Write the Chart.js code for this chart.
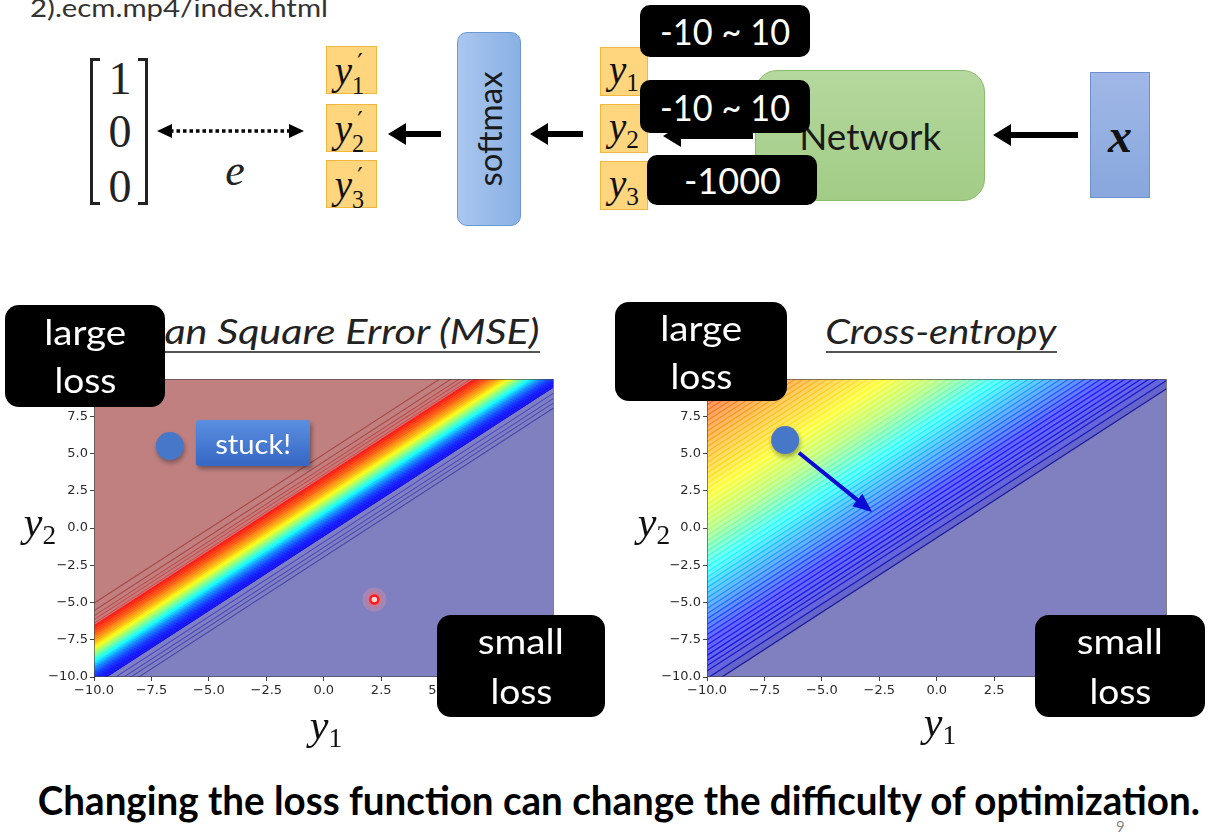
<!DOCTYPE html>
<html><head><meta charset="utf-8">
<script src="https://cdn.jsdelivr.net/npm/chart.js@4.4.0/dist/chart.umd.min.js"></script>
<style>
html,body{margin:0;padding:0;background:#fff;}
#slide{position:relative;width:1216px;height:838px;overflow:hidden;background:#fff;font-family:Lato,"Open Sans",sans-serif;}
.t{position:absolute;white-space:nowrap;line-height:1;z-index:3;}
.box{position:absolute;display:flex;align-items:center;justify-content:center;box-sizing:border-box;z-index:3;}
.fit{display:inline-block;white-space:nowrap;transform-origin:center center;}
.blk{background:#000;color:#fff;border-radius:10px;}
.math{font-family:"Liberation Serif","DejaVu Serif",serif;}
.math i{font-style:italic;}
.ybox{background:#ffd67e;border:1px solid #f3b63e;color:#111;font-size:39px;}
.ps{position:relative;display:inline-block;width:0.42em;height:0.5em;line-height:1;}
.ps .pr{position:absolute;left:0.22em;top:-0.52em;font-family:"DejaVu Sans",sans-serif;font-size:0.62em;font-style:normal;line-height:1;}
.ps .pd{position:absolute;left:0;top:0.42em;font-size:0.62em;font-style:normal;line-height:1;}
.sb{font-size:0.65em;vertical-align:-0.3em;font-style:normal;}
.chartwrap{position:absolute;z-index:1;}
.brk{position:absolute;border:3px solid #222;box-sizing:border-box;z-index:3;}
</style></head>
<body>
<div id="slide">
  <!-- header -->
  <div class="t" style="left:30px;top:-5px;font-size:25px;color:#333;transform-origin:left center;" data-fitl="298">2).ecm.mp4/index.html</div>

  <!-- matrix -->
  <div class="brk" style="left:90px;top:58px;width:10px;height:147px;border-right:none;"></div>
  <div class="brk" style="left:138px;top:58px;width:10px;height:147px;border-left:none;"></div>
  <div class="box math" style="left:100px;top:53px;width:40px;height:50px;font-size:46px;color:#222;">1</div>
  <div class="box math" style="left:100px;top:106px;width:40px;height:50px;font-size:46px;color:#222;">0</div>
  <div class="box math" style="left:100px;top:161px;width:40px;height:50px;font-size:46px;color:#222;">0</div>
  <div class="box math" style="left:215px;top:145px;width:40px;height:50px;font-size:44px;color:#222;"><i>e</i></div>

  <!-- y' boxes -->
  <div class="box ybox math" style="left:326px;top:46px;width:51px;height:48px;"><span><i>y</i><span class="ps"><span class="pr">′</span><span class="pd">1</span></span></span></div>
  <div class="box ybox math" style="left:326px;top:104px;width:51px;height:48px;"><span><i>y</i><span class="ps"><span class="pr">′</span><span class="pd">2</span></span></span></div>
  <div class="box ybox math" style="left:326px;top:160px;width:51px;height:48px;"><span><i>y</i><span class="ps"><span class="pr">′</span><span class="pd">3</span></span></span></div>

  <!-- softmax -->
  <div class="box" style="left:457px;top:32px;width:64px;height:194px;border-radius:10px;background:linear-gradient(90deg,#aac7ee,#89b0e4);border:1px solid #6d98d6;">
    <span style="display:inline-block;transform:rotate(-90deg);font-size:33px;color:#1a1a1a;white-space:nowrap;">softmax</span>
  </div>

  <!-- y boxes -->
  <div class="box ybox math" style="left:600px;top:47px;width:48px;height:49px;"><span><i>y</i><span class="sb">1</span></span></div>
  <div class="box ybox math" style="left:600px;top:104px;width:48px;height:49px;"><span><i>y</i><span class="sb">2</span></span></div>
  <div class="box ybox math" style="left:600px;top:161px;width:48px;height:49px;"><span><i>y</i><span class="sb">3</span></span></div>

  <!-- network -->
  <div class="box" style="left:755px;top:70px;width:230px;height:131px;border-radius:22px;background:linear-gradient(180deg,#b5d89e,#a2cc86);border:1px solid #8bbb6c;z-index:2;">
    <span class="fit" style="font-size:37px;color:#1a1a1a;" data-fit="142">Network</span>
  </div>
  <!-- x box -->
  <div class="box math" style="left:1090px;top:72px;width:60px;height:126px;background:linear-gradient(180deg,#a0b8e7,#88a7dd);border:1px solid #6f8fd0;font-size:48px;color:#111;"><b><i>x</i></b></div>

  <!-- black value boxes -->
  <div class="box blk" style="left:640px;top:5px;width:170px;height:52px;font-size:36px;z-index:4;"><span class="fit" data-fit="130">-10 ~ 10</span></div>
  <div class="box blk" style="left:640px;top:80px;width:170px;height:53px;font-size:36px;z-index:4;"><span class="fit" data-fit="130">-10 ~ 10</span></div>
  <div class="box blk" style="left:647px;top:155px;width:170px;height:50px;font-size:36px;z-index:4;"><span class="fit" data-fit="97">-1000</span></div>

  <!-- arrows -->
  <svg style="position:absolute;left:0;top:0;z-index:3;" width="1216" height="240">
    <line x1="170" y1="131" x2="291" y2="131" stroke="#000" stroke-width="3.5" stroke-dasharray="3.5 3"/>
    <polygon points="157,131 172,124 172,138" fill="#000"/>
    <polygon points="304,131 289,124 289,138" fill="#000"/>
    <line x1="402" y1="134" x2="441" y2="134" stroke="#000" stroke-width="6"/>
    <polygon points="388,134 406,123 406,145" fill="#000"/>
    <line x1="544" y1="134" x2="583" y2="134" stroke="#000" stroke-width="6"/>
    <polygon points="530,134 548,123 548,145" fill="#000"/>
    <line x1="677" y1="136" x2="753" y2="136" stroke="#000" stroke-width="6"/>
    <polygon points="663,136 681,125 681,147" fill="#000"/>
    <line x1="1007" y1="135" x2="1078" y2="135" stroke="#000" stroke-width="6"/>
    <polygon points="993,135 1011,124 1011,146" fill="#000"/>
  </svg>

  <!-- charts -->
  <div class="chartwrap" style="left:30px;top:365px;width:540px;height:340px;"><canvas id="mse" width="540" height="340"></canvas></div>
  <div class="chartwrap" style="left:643px;top:365px;width:540px;height:340px;"><canvas id="ce" width="540" height="340"></canvas></div>

  <!-- titles -->
  <div class="box" style="left:75px;top:313px;width:500px;height:34px;font-size:34px;font-style:italic;color:#222;"><span class="fit" data-fit="430">Mean Square Error (MSE)</span></div>
  <div style="position:absolute;left:110px;top:351px;width:430px;height:2px;background:#555;z-index:3;"></div>
  <div class="box" style="left:791px;top:313px;width:300px;height:34px;font-size:34px;font-style:italic;color:#222;"><span class="fit" data-fit="231">Cross-entropy</span></div>
  <div style="position:absolute;left:826px;top:351px;width:231px;height:2px;background:#555;z-index:3;"></div>

  <!-- loss boxes -->
  <div class="box blk" style="left:5px;top:305px;width:160px;height:102px;border-radius:14px;flex-direction:column;font-size:34px;line-height:48px;"><span class="fit" data-fit="82">large</span><span class="fit" data-fit="62">loss</span></div>
  <div class="box blk" style="left:615px;top:302px;width:172px;height:99px;border-radius:14px;flex-direction:column;font-size:34px;line-height:48px;"><span class="fit" data-fit="82">large</span><span class="fit" data-fit="62">loss</span></div>
  <div class="box blk" style="left:437px;top:615px;width:168px;height:102px;border-radius:14px;flex-direction:column;font-size:34px;line-height:50px;"><span class="fit" data-fit="86">small</span><span class="fit" data-fit="62">loss</span></div>
  <div class="box blk" style="left:1035px;top:615px;width:170px;height:102px;border-radius:14px;flex-direction:column;font-size:34px;line-height:50px;"><span class="fit" data-fit="86">small</span><span class="fit" data-fit="62">loss</span></div>

  <!-- stuck -->
  <div class="box" style="left:196px;top:420px;width:114px;height:46px;border-radius:3px;background:linear-gradient(180deg,#5b8fe0,#3567c4);box-shadow:2px 3px 4px rgba(0,0,0,0.35);color:#fff;font-size:27px;"><span class="fit" data-fit="76">stuck!</span></div>

  <!-- axis labels -->
  <div class="box math" style="left:10px;top:500px;width:60px;height:50px;font-size:42px;color:#111;"><span><i>y</i><span class="sb">2</span></span></div>
  <div class="box math" style="left:296px;top:703px;width:60px;height:50px;font-size:42px;color:#111;"><span><i>y</i><span class="sb">1</span></span></div>
  <div class="box math" style="left:624px;top:500px;width:60px;height:50px;font-size:42px;color:#111;"><span><i>y</i><span class="sb">2</span></span></div>
  <div class="box math" style="left:910px;top:700px;width:60px;height:50px;font-size:42px;color:#111;"><span><i>y</i><span class="sb">1</span></span></div>

  <!-- bottom statement -->
  <div class="box" style="left:0px;top:778px;width:1238px;height:44px;font-size:40px;font-weight:bold;color:#000;"><span class="fit" data-fit="1162">Changing the loss function can change the difficulty of optimization.</span></div>
  <div class="t" style="left:1116px;top:819px;font-size:15px;color:#8a8a8a;">9</div>
</div>

<script>
// ---------- data ----------
const axisRange = [-10, 10];
const axisTicks = [-10, -7.5, -5, -2.5, 0, 2.5, 5, 7.5, 10];

// MSE contour bands: offsets c of contour lines y2 = y1 + c, and level of each band below its line (0..1)
const mseBandOffsets = [3.45, 3.30, 3.15, 3.00, 2.85, 2.70, 2.55, 2.40, 2.25, 2.10, 1.95, 1.80, 1.65, 1.50, 1.35, 1.20, 1.05, 0.90, 0.75, 0.60, 0.45, 0.30, 0.15, 0.00, -0.15, -0.30, -0.45, -0.60];
const mseBandLevels  = [0.87, 0.85, 0.83, 0.81, 0.79, 0.76, 0.735, 0.71, 0.68, 0.645, 0.61, 0.57, 0.53, 0.49, 0.45, 0.41, 0.37, 0.33, 0.29, 0.25, 0.22, 0.19, 0.165, 0.145, 0.13, 0.115, 0.10];
const mseUpperLevel = 1.0;
const mseLowerLevel = 0.0;
const mseLineOffsets = [4.95, 4.45, 4.10, 3.85, 3.60, -0.95, -1.30, -1.60, -1.95];
const mseLineLevels  = [0.99, 0.98, 0.96, 0.94, 0.92, 0.06, 0.04, 0.025, 0.01];
const mseStuck = [{x: -6.7, y: 5.5}];
const mseMinimum = [{x: 2.2, y: -4.8}];

// Cross-entropy contour lines (offsets c of y2 = y1 + c)
const ceOffsets = [20.0, 19.65, 19.3, 18.95, 18.6, 18.25, 17.9, 17.55, 17.2, 16.85, 16.5, 16.15, 15.8, 15.45, 15.1, 14.75, 14.4, 14.05, 13.7, 13.35, 13.0, 12.65, 12.3, 11.95, 11.6, 11.25, 10.9, 10.55, 10.2, 9.85, 9.5, 9.15, 8.8, 8.45, 8.1, 7.75, 7.4, 7.05, 6.7, 6.35, 6.0, 5.65, 5.3, 4.95, 4.6, 4.25, 3.9, 3.55, 3.2, 2.85, 2.5, 2.15, 1.8, 1.45, 1.1, 0.75, 0.4, -0.1, -0.65];
const ceStart = [{x: -6.6, y: 5.9}];
const ceStep = [{x: -6.0, y: 5.05}, {x: -2.95, y: 1.25}];

// ---------- colour scale (style) ----------
const ceColorStops = [[-1, 0.0], [0, 0.06], [2.5, 0.13], [5, 0.26], [7.5, 0.39], [10, 0.54], [12.5, 0.635], [15, 0.70], [17.5, 0.77], [20, 0.83]];
function ceT(c){
  const s = ceColorStops;
  if (c <= s[0][0]) return s[0][1];
  for (let i = 1; i < s.length; i++) {
    if (c <= s[i][0]) { const f = (c - s[i-1][0]) / (s[i][0] - s[i-1][0]); return s[i-1][1] + f * (s[i][1] - s[i-1][1]); }
  }
  return s[s.length-1][1];
}
function jet(t){
  t = Math.max(0, Math.min(1, t));
  const f = v => Math.round(255 * Math.max(0, Math.min(1, v)));
  return [f(1.5 - Math.abs(4*t - 3)), f(1.5 - Math.abs(4*t - 2)), f(1.5 - Math.abs(4*t - 1))];
}
const mixWhite = (c, a) => c.map(v => Math.round(v*a + 255*(1-a)));
const rgb = c => `rgb(${c[0]},${c[1]},${c[2]})`;
const diag = c => [{x: axisRange[0], y: axisRange[0] + c}, {x: axisRange[1], y: axisRange[1] + c}];
const fmtTick = v => (Math.abs(v) < 1e-9 ? '0.0' : v.toFixed(1)).replace('-', '\u2212');
const base = {type: 'line', showLine: true, pointRadius: 0, pointHoverRadius: 0, tension: 0, order: 5};

function scaleOpts(axis){
  return {
    type: 'linear', min: axisRange[0], max: axisRange[1],
    afterBuildTicks: s => { s.ticks = axisTicks.map(v => ({value: v})); },
    afterFit: s => { if (axis === 'x') s.height = 28; else s.width = 64; },
    grid: {drawOnChartArea: false, drawTicks: true, tickLength: 4, color: '#444', lineWidth: 1},
    border: {display: false},
    ticks: {autoSkip: false, maxRotation: 0, color: '#2a2a2a', padding: 2,
            font: {family: 'DejaVu Sans', size: 13}, callback: v => fmtTick(v)}
  };
}

const framePlugin = {id: 'frame', afterDatasetsDraw(chart){
  const {ctx, chartArea: a} = chart;
  ctx.save(); ctx.strokeStyle = 'rgba(70,70,70,0.65)'; ctx.lineWidth = 1;
  ctx.strokeRect(Math.round(a.left) + 0.5, Math.round(a.top) + 0.5, Math.round(a.width) - 1, Math.round(a.height) - 1);
  ctx.restore();
}};
const shadowPlugin = {id: 'shadow',
  beforeDatasetDraw(chart, args){
    const d = chart.data.datasets[args.index];
    if (!d.shadow) return;
    const ctx = chart.ctx; ctx.save();
    ctx.shadowColor = 'rgba(0,0,0,0.35)'; ctx.shadowBlur = 5; ctx.shadowOffsetX = 1; ctx.shadowOffsetY = 3;
  },
  afterDatasetDraw(chart, args){
    const d = chart.data.datasets[args.index];
    if (d.shadow) chart.ctx.restore();
  }
};
const arrowPlugin = {id: 'arrowhead', afterDatasetsDraw(chart){
  const ctx = chart.ctx;
  chart.data.datasets.forEach((d, i) => {
    if (!d.arrowHead) return;
    const pts = chart.getDatasetMeta(i).data;
    const p0 = pts[pts.length - 2], p1 = pts[pts.length - 1];
    const ang = Math.atan2(p1.y - p0.y, p1.x - p0.x);
    const tx = p1.x + 4*Math.cos(ang), ty = p1.y + 4*Math.sin(ang);
    const L = 19, W = 8;
    ctx.save(); ctx.fillStyle = d.borderColor; ctx.beginPath();
    ctx.moveTo(tx, ty);
    ctx.lineTo(tx - L*Math.cos(ang) + W*Math.sin(ang), ty - L*Math.sin(ang) - W*Math.cos(ang));
    ctx.lineTo(tx - L*Math.cos(ang) - W*Math.sin(ang), ty - L*Math.sin(ang) + W*Math.cos(ang));
    ctx.closePath(); ctx.fill(); ctx.restore();
  });
}};

function makeChart(id, datasets){
  return new Chart(document.getElementById(id), {
    type: 'line',
    data: {datasets},
    options: {
      responsive: false, animation: false, events: [],
      layout: {padding: {top: 10, right: 14, left: 0, bottom: 0}},
      scales: {x: scaleOpts('x'), y: scaleOpts('y')},
      plugins: {legend: {display: false}, tooltip: {enabled: false},
                filler: {drawTime: 'beforeDatasetsDraw', propagate: false}}
    },
    plugins: [shadowPlugin, framePlugin, arrowPlugin]
  });
}
const marker = (data, r, bg, order, extra) => Object.assign({type: 'line', data, showLine: false, pointRadius: r, pointBackgroundColor: bg, pointBorderWidth: 0, order}, extra || {});

// ---------- MSE ----------
const mseSets = [];
mseSets.push({...base, data: diag(mseBandOffsets[0]), fill: 'end', backgroundColor: rgb(mixWhite(jet(mseUpperLevel), 0.5)), borderWidth: 0});
mseBandOffsets.forEach((c, i) => {
  const last = i === mseBandOffsets.length - 1;
  const col = last ? rgb(mixWhite(jet(mseLowerLevel), 0.5)) : rgb(mixWhite(jet(mseBandLevels[i]), 0.92));
  mseSets.push({...base, data: diag(c), fill: last ? 'start' : '+1', backgroundColor: col, borderColor: col, borderWidth: last ? 0 : 1});
});
mseLineOffsets.forEach((c, i) => {
  mseSets.push({...base, order: 4, data: diag(c), fill: false, borderColor: rgb(mixWhite(jet(mseLineLevels[i]), 0.72)), borderWidth: 1.1});
});
mseSets.push(marker(mseStuck, 14, '#4677c9', -1, {shadow: true}));
mseSets.push(marker(mseMinimum, 12, 'rgba(255,150,150,0.28)', -1));
mseSets.push(marker(mseMinimum, 8, 'rgba(255,110,110,0.35)', -2));
mseSets.push(marker(mseMinimum, 4, '#ffd6d6', -3, {pointBorderWidth: 2.5, pointBorderColor: '#ff1a1a'}));
makeChart('mse', mseSets);

// ---------- Cross-entropy ----------
const ceSets = [];
ceSets.push({...base, data: diag(ceOffsets[0]), fill: 'end', backgroundColor: rgb(mixWhite(jet(ceT(ceOffsets[0] + 0.2)), 0.6)), borderWidth: 0});
ceOffsets.forEach((c, i) => {
  const last = i === ceOffsets.length - 1;
  const mid = last ? c - 0.5 : (c + ceOffsets[i + 1]) / 2;
  ceSets.push({...base, data: diag(c), fill: last ? 'start' : '+1',
    backgroundColor: rgb(mixWhite(jet(ceT(mid)), last ? 0.5 : 0.6)),
    borderColor: rgb(mixWhite(jet(ceT(c)), 0.9)), borderWidth: 1.3});
});
ceSets.push(marker(ceStart, 14, '#4677c9', -1, {shadow: true}));
ceSets.push({type: 'line', data: ceStep, showLine: true, pointRadius: 0, borderColor: '#0b0bd6', borderWidth: 4, fill: false, order: -2, arrowHead: true});
makeChart('ce', ceSets);

// ---------- text fitting ----------
function fitAll(){
  document.querySelectorAll('[data-fit]').forEach(el => {
    el.style.transform = 'none';
    const w = el.getBoundingClientRect().width;
    el.style.transform = `scaleX(${parseFloat(el.dataset.fit) / w})`;
  });
  document.querySelectorAll('[data-fitl]').forEach(el => {
    el.style.transform = 'none';
    const w = el.getBoundingClientRect().width;
    el.style.transform = `scaleX(${parseFloat(el.dataset.fitl) / w})`;
  });
}
fitAll();
if (document.fonts && document.fonts.ready) document.fonts.ready.then(fitAll);
</script>
</body></html>
